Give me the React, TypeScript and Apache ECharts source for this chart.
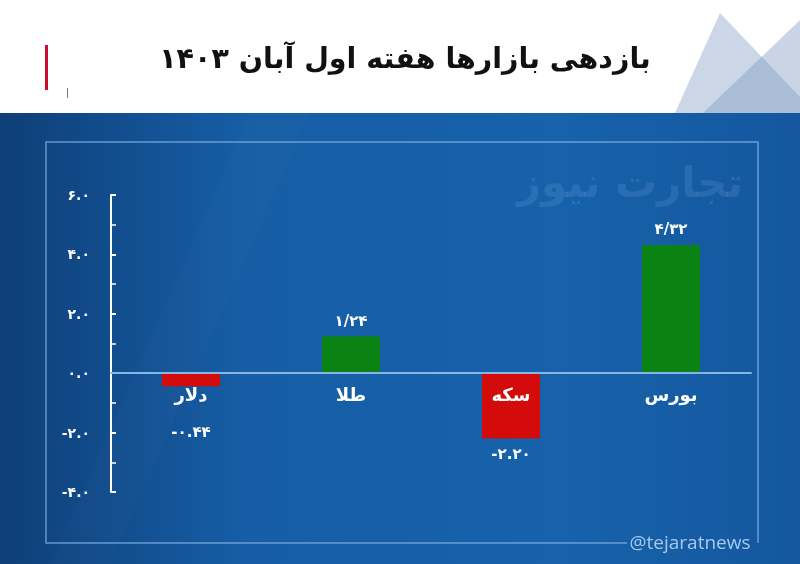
import React, { useEffect, useRef } from "react";
import * as echarts from "echarts";

const categories = ["دلار", "طلا", "سکه", "بورس"];
const values = [-0.44, 1.24, -2.2, 4.32];
const valueLabels = ["-۰.۴۴", "۱/۲۴", "-۲.۲۰", "۴/۳۲"];
const yTickValues = [-4, -2, 0, 2, 4, 6];
const yTickLabels = ["-۴.۰", "-۲.۰", "۰.۰", "۲.۰", "۴.۰", "۶.۰"];
const titleText = "بازدهی بازارها هفته اول آبان ۱۴۰۳";
const watermarkText = "تجارت نیوز";
const handleText = "@tejaratnews";

const FA = '"DejaVu Sans", "Noto Sans", sans-serif';

export default function App() {
  const ref = useRef<HTMLDivElement>(null);
  useEffect(() => {
    if (!ref.current) return;
    const chart = echarts.init(ref.current, null, { renderer: "svg" });
    const labelMap: Record<string, string> = {};
    yTickValues.forEach((v, i) => (labelMap[String(v)] = yTickLabels[i]));

    const data = values.map((v, i) => ({
      value: v,
      itemStyle: { color: v >= 0 ? "#0b8214" : "#d40b0b" },
      label: {
        show: true,
        position: v >= 0 ? "top" : "bottom",
        distance: v >= 0 ? 8 : i === 0 ? 38 : 8,
        formatter: () => valueLabels[i],
        color: "#ffffff",
        fontSize: 15,
        fontWeight: "bold",
        fontFamily: FA,
      },
    }));

    const catData = categories.map((c) => ({
      value: 0,
      itemStyle: { opacity: 1 },
      label: {
        show: true,
        position: "bottom",
        distance: 12,
        formatter: () => c,
        color: "#ffffff",
        fontSize: 18,
        fontWeight: "bold",
        fontFamily: FA,
      },
    }));

    chart.setOption({
      animation: false,
      graphic: [
        { type: "rect", z: -20, shape: { x: 0, y: 0, width: 800, height: 113 }, style: { fill: "#ffffff" } },
        { type: "polygon", z: -19, shape: { points: [[720, 13], [675, 113], [800, 113], [800, 97]] }, style: { fill: "#cbd7e6" } },
        { type: "polygon", z: -18, shape: { points: [[800, 20], [703, 113], [800, 113]] }, style: { fill: "rgba(120,150,190,0.4)" } },
        {
          type: "rect", z: -20, shape: { x: 0, y: 113, width: 800, height: 451 },
          style: {
            fill: new echarts.graphic.LinearGradient(0, 0, 1, 0, [
              { offset: 0, color: "#0e3f78" },
              { offset: 0.3, color: "#165da5" },
              { offset: 0.7, color: "#1762ab" },
              { offset: 1, color: "#14579e" },
            ]),
          },
        },
        { type: "polygon", z: -19, shape: { points: [[250, 113], [310, 113], [110, 564], [50, 564]] }, style: { fill: "rgba(255,255,255,0.015)" } },
        { type: "rect", z: -17, shape: { x: 45, y: 45, width: 3, height: 45 }, style: { fill: "#c8102e" } },
        { type: "rect", z: -17, shape: { x: 67, y: 88, width: 1, height: 10 }, style: { fill: "#777777" } },
        {
          type: "text", z: 5, x: 405, y: 58,
          style: { text: titleText, fill: "#111111", fontSize: 28.5, fontWeight: "bold", fontFamily: FA, align: "center", verticalAlign: "middle" },
        },
        {
          type: "polyline", z: -15,
          shape: { points: [[627, 543], [46, 543], [46, 142], [758, 142], [758, 543]] },
          style: { stroke: "rgba(140,185,235,0.7)", lineWidth: 1.5, fill: null },
        },
        {
          type: "text", z: -14, x: 630, y: 182,
          style: { text: watermarkText, fill: "rgba(160,200,245,0.14)", fontSize: 42, fontWeight: "bold", fontFamily: FA, align: "center", verticalAlign: "middle" },
        },
        {
          type: "text", z: 5, x: 690, y: 542,
          style: { text: handleText, fill: "#a6c8ee", fontSize: 19, fontFamily: '"Open Sans", sans-serif', align: "center", verticalAlign: "middle" },
        },
      ],
      grid: { left: 111, right: 49, top: 195, bottom: 72, containLabel: false },
      xAxis: {
        type: "category",
        data: categories,
        z: 10,
        axisLine: { onZero: true, lineStyle: { color: "#86b6e6", width: 2 } },
        axisTick: { show: false },
        axisLabel: { show: false },
      },
      yAxis: {
        type: "value",
        min: -4,
        max: 6,
        interval: 2,
        splitLine: { show: false },
        axisLine: { show: true, lineStyle: { color: "#ffffff", width: 2 } },
        axisTick: { show: true, inside: true, length: 5, lineStyle: { color: "#ffffff", width: 2 } },
        minorTick: { show: true, splitNumber: 2, length: 5, lineStyle: { color: "#ffffff", width: 1.5 } },
        axisLabel: {
          color: "#ffffff",
          fontSize: 14,
          fontWeight: "bold",
          fontFamily: FA,
          margin: 21,
          formatter: (v: number) => labelMap[String(v)] ?? String(v),
        },
      },
      series: [
        {
          type: "bar",
          data,
          barWidth: 58,
        },
        {
          type: "scatter",
          data: catData,
          symbolSize: 0,
          z: 12,
          silent: true,
          itemStyle: { opacity: 1 },
        },
      ],
    });
    return () => chart.dispose();
  }, []);
  return <div ref={ref} style={{ position: "fixed", left: 0, top: 0, width: 800, height: 564 }} />;
}
